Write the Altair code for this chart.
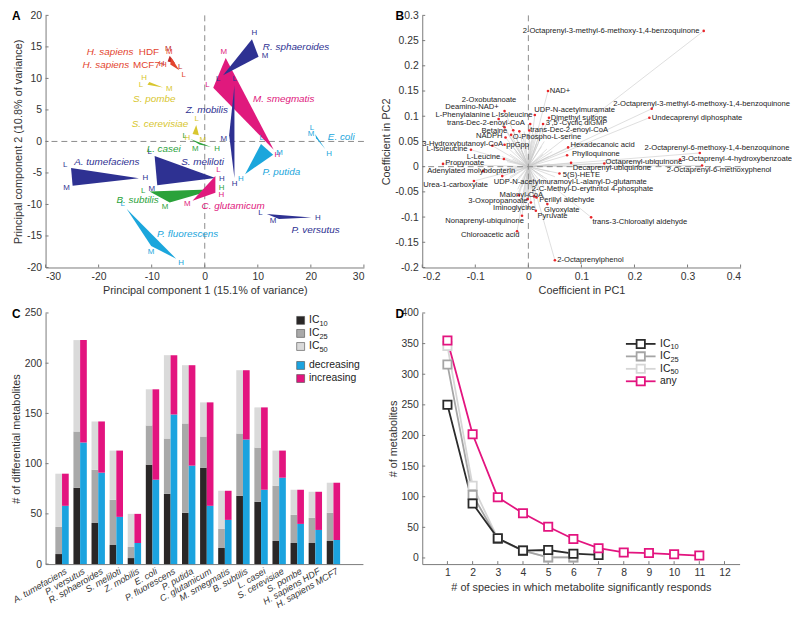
import altair as alt
import pandas as pd
import numpy as np

FONT = "Liberation Sans"
AXC = "#7a7a7a"
TXT = "#333333"
MINUS = "replace(format(datum.value, '~g'), '\u2212', '-')"

# ---------------- Panel A : PCA triangles ----------------
tri_names = ["M. smegmatis", "R. sphaeroides", "Z. mobilis", "S. meliloti", "A. tumefaciens",
             "P. versutus", "B. subtilis", "C. glutamicum", "L. casei", "P. fluorescens",
             "P. putida", "E. coli", "S. cerevisiae", "S. pombe", "H. sapiens HDF", "H. sapiens MCF7"]
tri_Lx = [1.6, 3.45, 5.6, -9.45, -25.2, 11.7, -10.4, 2.0, -2.7, -14.7, 10.6, 20.8, -1.6, -10.8, -5.6, -4.8]
tri_Ly = [8.5, 10.5, 8.9, -2.3, -4.2, -11.5, -7.95, -5.5, 0.4, -10.7, -0.4, 1.2, 2.6, 9.0, 12.4, 11.3]
tri_Mx = [3.95, 10.15, 4.6, -8.95, -24.9, 14.0, -6.6, -2.3, -1.0, -10.1, 12.9, 21.0, -1.1, -7.85, -6.6, -6.3]
tri_My = [13.25, 13.45, 1.0, -6.95, -7.05, -12.3, -9.7, -9.4, -0.5, -16.6, -2.1, 0.5, 1.0, 8.55, 13.6, 13.3]
tri_Hx = [13.0, 8.9, 5.6, 2.0, -12.4, 20.1, 2.0, 2.0, 1.2, -5.4, 7.6, 22.7, -2.3, -10.45, -7.0, -6.5]
tri_Hy = [-1.3, 16.2, -5.8, -5.8, -5.85, -12.05, -7.6, -8.15, -0.9, -18.6, -5.2, -1.2, 1.2, 9.45, 12.7, 12.2]
tri_colors = ["#e0197d", "#2e3192", "#2e3192", "#2e3192", "#2e3192",
              "#2e3192", "#2ba23a", "#e0197d", "#2ba23a", "#1ba6dc",
              "#1ba6dc", "#1ba6dc", "#d8c62e", "#d8c62e", "#bf2a2a", "#e3442e"]

lab_names = ["R. sphaeroides", "M. smegmatis", "Z. mobilis", "S. pombe", "S. cerevisiae",
             "E. coli", "L. casei", "A. tumefaciens", "S. meliloti", "P. putida",
             "B. subtilis", "C. glutamicum", "P. versutus", "P. fluorescens"]
lab_x = [10.95, 9.1, -3.6, -13.5, -13.75, 23.2, -10.95, -24.6, -4.45, 10.9, -16.65, -0.6, 16.35, -9.0]
lab_y = [15.0, 6.65, 5.0, 6.8, 2.8, 0.7, -1.15, -3.25, -3.25, -4.9, -9.25, -10.3, -14.1, -14.65]
hs_suffix = ["HDF", "MCF7"]
hs_x = [-8.6, -8.45]
hs_y = [14.25, 12.15]

# ---------------- Panel B : loadings ----------------
b_names = ["2-Octaprenyl-3-methyl-6-methoxy-1,4-benzoquinone", "NAD+",
           "2-Octaprenyl-3-methyl-6-methoxy-1,4-benzoquinone", "Undecaprenyl diphosphate",
           "2-Octaprenyl-6-methoxy-1,4-benzoquinone",
           "3-Octaprenyl-4-hydroxybenzoate", "2-Octaprenyl-6-methoxyphenol",
           "Octaprenyl-ubiquinone", "Decaprenyl-ubiquinone", "Hexadecanoic acid",
           "Phylloquinone", "5(S)-HETE", "2-C-Methyl-D-erythritol 4-phosphate",
           "UDP-N-acetylmuramoyl-L-alanyl-D-glutamate", "trans-3-Chloroallyl aldehyde",
           "2-Octaprenylphenol", "Glyoxylate", "Pyruvate", "Perillyl aldehyde", "Iminoglycine",
           "3-Oxopropanoate", "Malonyl-CoA", "Nonaprenyl-ubiquinone", "Chloroacetic acid",
           "Urea-1-carboxylate",
           "Adenylated molybdopterin", "Propynoate", "L-Leucine", "L-Isoleucine",
           "3-Hydroxybutanoyl-CoA",
           "ppGpp", "NADPH", "O-Phospho-L-serine", "Betaine", "trans-Dec-2-enoyl-CoA",
           "L-Phenylalanine", "L-Isoleucine", "Deamino-NAD+", "2-Oxobutanoate",
           "UDP-N-acetylmuramate",
           "Dimethyl sulfone", "3',5'-Cyclic diGMP", "trans-Dec-2-enoyl-CoA"]
b_px = [0.3305, 0.0370, 0.2325, 0.2281, 0.3231,
        0.2858, 0.3274, 0.1431, 0.0805, 0.0749,
        0.0730, 0.0587, 0.0110, -0.0492, 0.1183,
        0.0500, 0.0358, 0.0141, 0.0153, 0.0048,
        -0.0014, -0.0182, -0.0120, -0.0213, -0.1026,
        -0.0852, -0.1609, -0.0461, -0.1082, -0.0678,
        -0.0449, -0.0430, -0.0325, -0.0285, -0.0449,
        -0.0560, 0.0122, -0.0449, -0.0170, 0.0035,
        0.0389, 0.0277, 0.0017]
b_py = [0.2692, 0.1501, 0.1148, 0.0971, 0.0271,
        0.0140, 0.0022, 0.0062, 0.0075, 0.0382,
        0.0225, -0.0135, -0.0590, -0.0187, -0.1005,
        -0.1856, -0.0743, -0.0874, -0.0613, -0.0711,
        -0.0645, -0.0567, -0.0973, -0.1280, -0.0285,
        -0.0089, 0.0055, 0.0153, 0.0336, 0.0415,
        0.0435, 0.0579, 0.0631, 0.0722, 0.0781,
        0.0945, 0.1024, 0.1102, 0.0700, 0.0847,
        0.0971, 0.0847, 0.0716]
b_lx = [-0.0108, 0.0401, 0.1600, 0.2325, 0.2188,
        0.2880, 0.2610, 0.1456, 0.0836, 0.0792,
        0.0823, 0.0649, 0.0066, -0.0654, 0.1208,
        0.0544, 0.0296, 0.0172, 0.0203, -0.0666,
        -0.1131, -0.0542, -0.1566, -0.1268, -0.1981,
        -0.1907, -0.1566, -0.1162, -0.1919, -0.2000,
        -0.0418, -0.0989, -0.0294, -0.0883, -0.1535,
        -0.1752, -0.0697, -0.1566, -0.1255, 0.0110,
        0.0420, 0.0327, 0.0035]
b_ly = [0.2692, 0.1501, 0.1240, 0.0971, 0.0363,
        0.0160, -0.0076, 0.0088, -0.0037, 0.0435,
        0.0258, -0.0167, -0.0449, -0.0298, -0.1103,
        -0.1856, -0.0855, -0.0972, -0.0665, -0.0822,
        -0.0691, -0.0560, -0.1084, -0.1365, -0.0370,
        -0.0089, 0.0075, 0.0192, 0.0350, 0.0454,
        0.0435, 0.0598, 0.0579, 0.0716, 0.0873,
        0.1024, 0.1024, 0.1174, 0.1318, 0.1122,
        0.0971, 0.0860, 0.0729]
# unlabeled loadings forming the grey fan around the origin
b_fx = [0.03, 0.02, 0.01, -0.01, -0.02, -0.03, -0.035, -0.04, -0.04, -0.035,
        -0.03, -0.02, -0.01, 0.0, 0.01, 0.02, 0.03, 0.035, 0.04, 0.04,
        0.038, 0.035, 0.025, 0.015, 0.005, -0.015, -0.025, -0.03, -0.028, -0.022,
        -0.012, 0.005, 0.018, 0.028, 0.03, 0.028, 0.045, 0.05, -0.05, -0.045,
        0.015, -0.005, 0.022, -0.018, 0.012, -0.008]
b_fy = [0.05, 0.06, 0.065, 0.06, 0.05, 0.04, 0.025, 0.01, -0.005, -0.02,
        -0.035, -0.045, -0.055, -0.06, -0.055, -0.05, -0.04, -0.025, -0.01, 0.005,
        0.02, 0.035, 0.04, 0.045, 0.05, 0.04, 0.03, 0.015, -0.01, -0.03,
        -0.04, -0.045, -0.035, -0.02, 0.0, 0.025, 0.03, -0.02, 0.02, -0.03,
        0.075, -0.075, 0.055, -0.05, -0.068, 0.07]

# ---------------- Panel C : bars ----------------
c_species = ["A. tumefaciens", "P. versutus", "R. sphaeroides", "S. meliloti", "Z. mobilis",
             "E. coli", "P. fluorescens", "P. putida", "C. glutamicum", "M. smegmatis",
             "B. subtilis", "L. casei", "S. cerevisiae", "S. pombe", "H. sapiens HDF",
             "H. sapiens MCF7"]
c_ic10 = [10, 76, 41, 19, 6, 99, 70, 51, 96, 16, 68, 62, 23, 21, 21, 23]
c_ic25 = [37, 132, 94, 64, 17, 138, 125, 140, 127, 35, 130, 116, 78, 49, 46, 51]
c_ic50 = [90, 223, 142, 113, 50, 174, 208, 198, 161, 73, 193, 156, 113, 74, 72, 81]
c_dec = [58, 121, 91, 47, 21, 84, 149, 98, 58, 44, 124, 74, 86, 40, 34, 24]
c_inc = [32, 102, 51, 66, 29, 90, 59, 100, 103, 29, 69, 82, 27, 34, 38, 57]

# ---------------- Panel D : lines ----------------
d_x_ic10 = [1, 2, 3, 4, 5, 6, 7]
d_ic10 = [250, 89, 32, 12, 13, 7, 5]
d_x_ic25 = [1, 2, 3, 4, 5, 6]
d_ic25 = [316, 103, 31, 12, 1, 1]
d_x_ic50 = [1, 2, 3, 4, 5, 6]
d_ic50 = [346, 118, 32, 12, 1, 1]
d_x_any = [1, 2, 3, 4, 5, 6, 7, 8, 9, 10, 11]
d_any = [355, 202, 99, 73, 51, 31, 16, 9, 8, 6, 4]

# =====================================================
WA, HA = 322, 255
WC, HC = 321, 254


def tick_x(vals, scale, axis, h):
    return alt.Chart(pd.DataFrame({"v": vals})).mark_rule(color=AXC, strokeWidth=1).encode(
        x=alt.X("v:Q", scale=scale, axis=axis), y=alt.value(h), y2=alt.value(h - 3))


def tick_y(vals, scale, axis):
    return alt.Chart(pd.DataFrame({"w": vals})).mark_rule(color=AXC, strokeWidth=1).encode(
        y=alt.Y("w:Q", scale=scale, axis=axis), x=alt.value(0), x2=alt.value(3))


def panel_letter(t, x):
    return alt.Chart(pd.DataFrame({"t": [t]})).mark_text(
        align="left", baseline="top", fontSize=12, fontWeight="bold", color="black"
    ).encode(text="t:N", x=alt.value(x), y=alt.value(-4))


NOSC = None

# ---------- A ----------
sAx = alt.Scale(domain=[-30, 30], nice=False, zero=False)
sAy = alt.Scale(domain=[-20, 20], nice=False, zero=False)
axAx = alt.Axis(values=list(range(-30, 31, 10)), title="Principal component 1 (15.1% of variance)",
                labelExpr=MINUS)
axAy = alt.Axis(values=list(range(-20, 21, 5)), title="Principal component 2 (10.8% of variance)",
                labelExpr=MINUS)
tri_col = dict(zip(tri_names, tri_colors))

poly_rows, vlab_rows = [], []
sx, sy = WA / 60.0, HA / 40.0
for i, n in enumerate(tri_names):
    verts = [("L", tri_Lx[i], tri_Ly[i]), ("M", tri_Mx[i], tri_My[i]), ("H", tri_Hx[i], tri_Hy[i])]
    cx = np.mean([v[1] for v in verts])
    cy = np.mean([v[2] for v in verts])
    for k, (lt, vx, vy) in enumerate(verts + [verts[0]]):
        poly_rows.append({"tri": n, "o": k, "x": vx, "y": vy, "col": tri_col[n]})
    for lt, vx, vy in verts:
        dx, dy = (vx - cx) * sx, (vy - cy) * sy
        nn = max(np.hypot(dx, dy), 1e-6)
        off = 6.5
        vlab_rows.append({"tri": n, "t": lt, "x": vx + dx / nn * off / sx, "y": vy + dy / nn * off / sy,
                          "col": tri_col[n]})
poly = pd.DataFrame(poly_rows)
vlab = pd.DataFrame(vlab_rows)

zero0 = pd.DataFrame({"v": [0]})
a_v = alt.Chart(zero0).mark_rule(color="#8c8c8c", strokeDash=[6, 4], strokeWidth=1).encode(
    x=alt.X("v:Q", scale=sAx, axis=axAx))
a_h = alt.Chart(zero0).mark_rule(color="#8c8c8c", strokeDash=[6, 4], strokeWidth=1).encode(
    y=alt.Y("v:Q", scale=sAy, axis=axAy))
a_poly = alt.Chart(poly).mark_line(filled=True, strokeWidth=0).encode(
    x=alt.X("x:Q", scale=sAx, axis=axAx), y=alt.Y("y:Q", scale=sAy, axis=axAy),
    detail="tri:N", order="o:Q",
    color=alt.Color("col:N", scale=NOSC, legend=None))
a_vl = alt.Chart(vlab).mark_text(fontSize=8, baseline="middle", align="center").encode(
    x=alt.X("x:Q", scale=sAx, axis=axAx), y=alt.Y("y:Q", scale=sAy, axis=axAy), text="t:N",
    color=alt.Color("col:N", scale=NOSC, legend=None))
labdf = pd.DataFrame({"tri": lab_names, "x": lab_x, "y": lab_y,
                      "col": [tri_col[n] for n in lab_names]})
a_lab = alt.Chart(labdf).mark_text(fontSize=10, fontStyle="italic", align="left", baseline="middle").encode(
    x=alt.X("x:Q", scale=sAx, axis=axAx), y=alt.Y("y:Q", scale=sAy, axis=axAy), text="tri:N",
    color=alt.Color("col:N", scale=NOSC, legend=None))
hsdf = pd.DataFrame({"s": hs_suffix, "x": hs_x, "y": hs_y, "p": ["H. sapiens", "H. sapiens"]})
a_hs1 = alt.Chart(hsdf).mark_text(fontSize=10, align="right", baseline="middle", color="#e3442e").encode(
    x=alt.X("x:Q", scale=sAx, axis=axAx), y=alt.Y("y:Q", scale=sAy, axis=axAy), text="s:N")
a_hs2 = alt.Chart(hsdf.iloc[[0]]).mark_text(fontSize=10, fontStyle="italic", align="right", baseline="middle",
                                            color="#e3442e", dx=-26).encode(
    x=alt.X("x:Q", scale=sAx, axis=axAx), y=alt.Y("y:Q", scale=sAy, axis=axAy), text="p:N")
a_hs3 = alt.Chart(hsdf.iloc[[1]]).mark_text(fontSize=10, fontStyle="italic", align="right", baseline="middle",
                                            color="#e3442e", dx=-31).encode(
    x=alt.X("x:Q", scale=sAx, axis=axAx), y=alt.Y("y:Q", scale=sAy, axis=axAy), text="p:N")
chartA = alt.layer(
    a_v, a_h,
    tick_x(list(range(-30, 31, 10)), sAx, axAx, HA), tick_y(list(range(-20, 21, 5)), sAy, axAy),
    a_poly, a_vl, a_lab, a_hs1, a_hs2, a_hs3, panel_letter("A", -34)
).properties(width=WA, height=HA)

# ---------- B ----------
sBx = alt.Scale(domain=[-0.2, 0.4], nice=False, zero=False)
sBy = alt.Scale(domain=[-0.2, 0.3], nice=False, zero=False)
axBx = alt.Axis(values=[-0.2, -0.1, 0, 0.1, 0.2, 0.3, 0.4], title="Coefficient in PC1", labelExpr=MINUS)
axBy = alt.Axis(values=[-0.2, -0.15, -0.1, -0.05, 0, 0.05, 0.1, 0.15, 0.2, 0.25, 0.3],
                title="Coefficient in PC2", labelExpr=MINUS)
fan = pd.DataFrame({"x": list(b_px) + list(b_fx), "y": list(b_py) + list(b_fy)})
fan["x0"] = 0.0
fan["y0"] = 0.0
b_fan = alt.Chart(fan).mark_rule(color="#c9c9c9", strokeWidth=0.6).encode(
    x=alt.X("x0:Q", scale=sBx, axis=axBx), y=alt.Y("y0:Q", scale=sBy, axis=axBy), x2="x:Q", y2="y:Q")
b_v = alt.Chart(zero0).mark_rule(color="#8c8c8c", strokeDash=[6, 4], strokeWidth=1).encode(
    x=alt.X("v:Q", scale=sBx, axis=axBx))
b_h = alt.Chart(zero0).mark_rule(color="#8c8c8c", strokeDash=[6, 4], strokeWidth=1).encode(
    y=alt.Y("v:Q", scale=sBy, axis=axBy))
bpts = pd.DataFrame({"n": b_names, "x": b_px, "y": b_py, "lx": b_lx, "ly": b_ly})
b_pt = alt.Chart(bpts).mark_circle(size=7, color="#e8262b", opacity=1).encode(
    x=alt.X("x:Q", scale=sBx, axis=axBx), y=alt.Y("y:Q", scale=sBy, axis=axBy))
b_tx = alt.Chart(bpts).mark_text(fontSize=7.7, align="left", baseline="middle", color="#222222").encode(
    x=alt.X("lx:Q", scale=sBx, axis=axBx), y=alt.Y("ly:Q", scale=sBy, axis=axBy), text="n:N")
chartB = alt.layer(
    b_fan, b_v, b_h,
    tick_x([-0.2, -0.1, 0, 0.1, 0.2, 0.3, 0.4], sBx, axBx, HA),
    tick_y([-0.2, -0.15, -0.1, -0.05, 0, 0.05, 0.1, 0.15, 0.2, 0.25, 0.3], sBy, axBy),
    b_pt, b_tx, panel_letter("B", -27)
).properties(width=WA, height=HA)

# ---------- C ----------
cats = ["IC10", "IC25", "IC50", "decreasing", "increasing"]
cat_colors = ["#2a2727", "#a9a9a9", "#dadada", "#1ba3df", "#e3147f"]
cat_col = dict(zip(cats, cat_colors))
rows = []
for i, s in enumerate(c_species):
    rows += [{"sp": s, "side": "a", "cat": "IC10", "lo": 0, "hi": c_ic10[i]},
             {"sp": s, "side": "a", "cat": "IC25", "lo": c_ic10[i], "hi": c_ic25[i]},
             {"sp": s, "side": "a", "cat": "IC50", "lo": c_ic25[i], "hi": c_ic50[i]},
             {"sp": s, "side": "b", "cat": "decreasing", "lo": 0, "hi": c_dec[i]},
             {"sp": s, "side": "b", "cat": "increasing", "lo": c_dec[i], "hi": c_dec[i] + c_inc[i]}]
cdf = pd.DataFrame(rows)
cdf["col"] = cdf["cat"].map(cat_col)
sCy = alt.Scale(domain=[0, 250], nice=False, zero=False)
axCy = alt.Axis(values=list(range(0, 251, 50)), title="# of differential metabolites")
axCx = alt.Axis(title=None, labelAngle=-30, labelAlign="right", labelBaseline="middle",
                labelFontStyle="italic", labelPadding=6, labelFontSize=9.2, labelOffset=4,
                domainColor=AXC)
c_bar = alt.Chart(cdf).mark_bar().encode(
    x=alt.X("sp:N", sort=c_species, axis=axCx,
            scale=alt.Scale(paddingInner=0.26, paddingOuter=0.9, align=0.3)),
    xOffset=alt.XOffset("side:N", scale=alt.Scale(paddingInner=0, paddingOuter=0)),
    y=alt.Y("lo:Q", scale=sCy, axis=axCy), y2="hi:Q",
    color=alt.Color("col:N", scale=NOSC, legend=None))
leg_y = [7.5 + 13.2 * i + (6 if i >= 3 else 0) for i in range(5)]
legc = pd.DataFrame({"cat": cats, "py": leg_y, "t": ["IC", "IC", "IC", "decreasing", "increasing"],
                     "sub": ["10", "25", "50", "", ""]})
legc["col"] = legc["cat"].map(cat_col)
legc["px"] = 258.0
legc["tx"] = 266.5
legc["sx"] = 277.0
legc["sy"] = legc["py"] + 3.5
c_lsq = alt.Chart(legc).mark_square(size=64, opacity=1, stroke="#4a4a4a", strokeWidth=0.6).encode(
    x=alt.X("px:Q", scale=None), y=alt.Y("py:Q", scale=None),
    color=alt.Color("col:N", scale=NOSC, legend=None))
c_lt = alt.Chart(legc).mark_text(align="left", baseline="middle", fontSize=10.5, color="#222").encode(
    x=alt.X("tx:Q", scale=None), y=alt.Y("py:Q", scale=None), text="t:N")
c_ls = alt.Chart(legc).mark_text(align="left", baseline="middle", fontSize=7.5, color="#222").encode(
    x=alt.X("sx:Q", scale=None), y=alt.Y("sy:Q", scale=None), text="sub:N")
chartC = alt.layer(
    c_bar, tick_y(list(range(0, 251, 50)), sCy, axCy), c_lsq, c_lt, c_ls, panel_letter("C", -34)
).properties(width=WC, height=HC)

# ---------- D ----------
series = ["IC10", "IC25", "IC50", "any"]
ser_colors = ["#2b2b2b", "#a5a5a5", "#d6d6d6", "#e3147f"]
ser_col = dict(zip(series, ser_colors))
drows = []
for name, xs, ys in [("IC50", d_x_ic50, d_ic50), ("IC25", d_x_ic25, d_ic25),
                     ("IC10", d_x_ic10, d_ic10), ("any", d_x_any, d_any)]:
    for xv, yv in zip(xs, ys):
        drows.append({"s": name, "x": xv, "y": yv, "col": ser_col[name]})
ddf = pd.DataFrame(drows)
sDx = alt.Scale(domain=[0, 12.6], nice=False, zero=False)
sDy = alt.Scale(domain=[-10, 400], nice=False, zero=False)
axDx = alt.Axis(values=list(range(1, 13)), title="# of species in which metabolite significantly responds")
axDy = alt.Axis(values=list(range(0, 401, 50)), title="# of metabolites")
d_line = alt.Chart(ddf).mark_line(strokeWidth=1.8).encode(
    x=alt.X("x:Q", scale=sDx, axis=axDx), y=alt.Y("y:Q", scale=sDy, axis=axDy),
    color=alt.Color("col:N", scale=NOSC, legend=None), detail="s:N")
d_pt = alt.Chart(ddf).mark_point(shape="square", size=70, filled=False, fill="white", strokeWidth=1.8,
                                 opacity=1).encode(
    x=alt.X("x:Q", scale=sDx, axis=axDx), y=alt.Y("y:Q", scale=sDy, axis=axDy),
    color=alt.Color("col:N", scale=NOSC, legend=None))
legd = pd.DataFrame({"s": series, "py": [31.3 + 12.6 * i for i in range(4)],
                     "t": ["IC", "IC", "IC", "any"], "sub": ["10", "25", "50", ""]})
legd["col"] = legd["s"].map(ser_col)
legd["x1"] = 206.0
legd["x2"] = 236.0
legd["pxm"] = 221.0
legd["tx"] = 240.5
legd["sx"] = 251.0
legd["sy"] = legd["py"] + 3.5
d_lr = alt.Chart(legd).mark_rule(strokeWidth=1.8).encode(
    x=alt.X("x1:Q", scale=None), x2="x2:Q", y=alt.Y("py:Q", scale=None),
    color=alt.Color("col:N", scale=NOSC, legend=None))
d_lp = alt.Chart(legd).mark_point(shape="square", size=70, filled=False, fill="white", strokeWidth=1.8,
                                  opacity=1).encode(
    x=alt.X("pxm:Q", scale=None), y=alt.Y("py:Q", scale=None),
    color=alt.Color("col:N", scale=NOSC, legend=None))
d_lt = alt.Chart(legd).mark_text(align="left", baseline="middle", fontSize=10.5, color="#222").encode(
    x=alt.X("tx:Q", scale=None), y=alt.Y("py:Q", scale=None), text="t:N")
d_ls = alt.Chart(legd).mark_text(align="left", baseline="middle", fontSize=7.5, color="#222").encode(
    x=alt.X("sx:Q", scale=None), y=alt.Y("sy:Q", scale=None), text="sub:N")
chartD = alt.layer(
    tick_x(list(range(1, 13)), sDx, axDx, HC), tick_y(list(range(0, 401, 50)), sDy, axDy),
    d_line, d_pt, d_lr, d_lp, d_lt, d_ls, panel_letter("D", -27)
).properties(width=WC, height=HC)

chart = alt.concat(chartA, chartB, chartC, chartD, columns=2,
                   spacing={"row": 46, "column": 59}, bounds="flush").properties(
    padding={"left": 2, "top": -1, "right": 0, "bottom": 0}).configure(
    font=FONT).configure_view(stroke=None).configure_axis(
    grid=False, ticks=False, domainColor=AXC, domainWidth=1, labelColor=TXT, titleColor=TXT,
    labelFontSize=10.5, titleFontSize=11, titleFontWeight="normal", labelPadding=4, titlePadding=3,
    labelFont=FONT, titleFont=FONT)

chart.save("out.html", embed_options={"renderer": "svg", "actions": False})
